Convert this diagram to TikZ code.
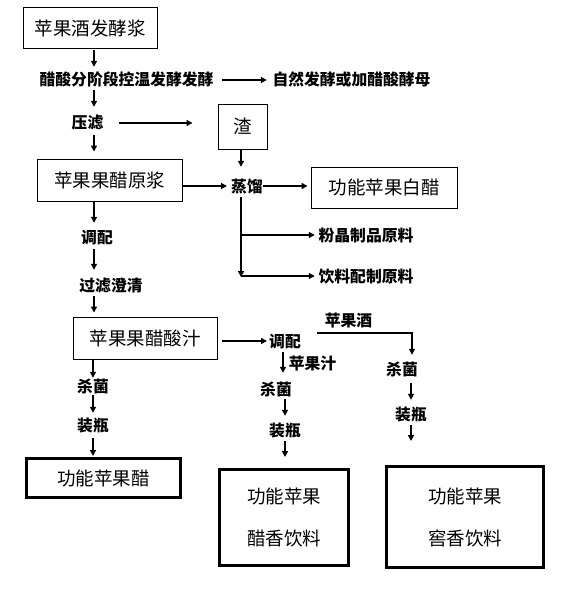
\documentclass[tikz,border=0pt]{standalone}
\usepackage{fontspec}
\newfontfamily\cjk{Noto Sans CJK SC}
\usetikzlibrary{arrows.meta,calc}
\begin{document}
\begin{tikzpicture}[x=1pt,y=-1pt,
  box/.style={draw,line width=0.9pt,inner sep=0pt,font=\cjk\fontsize{18.5}{22}\selectfont},
  tbox/.style={draw,line width=3pt,inner sep=0pt,align=center,font=\cjk\fontsize{18.5}{42}\selectfont},
  lab/.style={inner sep=0pt,text height=14pt,text depth=2pt,font=\cjk\bfseries\fontsize{15.8}{18}\selectfont},
  arr/.style={line width=1.4pt,-{Triangle[length=6pt,width=6pt]}},
  ln/.style={line width=1.4pt}]
\useasboundingbox (0,0) rectangle (564,596);
% boxes
\node[box,minimum width=134pt,minimum height=41pt] (b1) at (90,28) {苹果酒发酵浆};
\node[box,minimum width=49pt,minimum height=45pt] (zha) at (242.5,126.5) {渣};
\node[box,minimum width=145pt,minimum height=42pt] (yj) at (109.5,180) {苹果果醋原浆};
\node[box,minimum width=146pt,minimum height=41pt] (bc) at (384,187.5) {功能苹果白醋};
\node[box,minimum width=144pt,minimum height=42pt] (sz) at (145,338) {苹果果醋酸汁};
\node[tbox,minimum width=154pt,minimum height=39pt] (pgc) at (103.5,478) {功能苹果醋};
\node[tbox,minimum width=129pt,minimum height=96pt] (cx) at (284,517.5) {功能苹果\\醋香饮料};
\node[tbox,minimum width=157pt,minimum height=101pt] (jx) at (465,517) {功能苹果\\窖香饮料};
% labels
\node[lab] (l1) at (126.5,80) {醋酸分阶段控温发酵发酵};
\node[lab] (l2) at (351.5,80) {自然发酵或加醋酸酵母};
\node[lab] (l3) at (87.5,123) {压滤};
\node[lab] (l4) at (247,186) {蒸馏};
\node[lab] (l5) at (366,235) {粉晶制品原料};
\node[lab] (l6) at (366,276) {饮料配制原料};
\node[lab] (l7) at (97,237) {调配};
\node[lab] (l8) at (111,285) {过滤澄清};
\node[lab] (l9) at (285,341) {调配};
\node[lab] (l10) at (348.5,320) {苹果酒};
\node[lab] (l11) at (312.5,363) {苹果汁};
\node[lab] (l12) at (276,389) {杀菌};
\node[lab] (l13) at (285,430) {装瓶};
\node[lab] (l14) at (402,369) {杀菌};
\node[lab] (l15) at (411,414) {装瓶};
\node[lab] (l16) at (93,386) {杀菌};
\node[lab] (l17) at (93,425) {装瓶};
% helper coordinates
\coordinate (xA) at (94,0);
\coordinate (xB) at (93,0);
\coordinate (xZ) at (241,0);
\coordinate (j1) at (241,235);
\coordinate (j2) at (241,277);
\coordinate (c1) at (317,333);
\coordinate (xR) at (412,0);
\coordinate (xM) at (283,0);
\coordinate (xN) at (285,0);
\coordinate (xS) at (411,0);
% left column
\draw[arr,shorten <=1.5pt,shorten >=5pt] (b1.south -| xA) -- (l1.north -| xA);
\draw[arr,shorten <=2pt,shorten >=8pt] (l1.south -| xA) -- (l3.north -| xA);
\draw[arr,shorten <=4pt,shorten >=7pt] (l3.south -| xA) -- (yj.north -| xA);
\draw[arr,shorten <=1pt,shorten >=6pt] (yj.south -| xA) -- (l7.north -| xA);
\draw[arr,shorten <=4pt,shorten >=7pt] (l7.south -| xA) -- (l8.north -| xA);
\draw[arr,shorten <=3pt,shorten >=4pt] (l8.south -| xA) -- (sz.north -| xA);
\draw[arr] (sz.south -| xB) -- (l16.north -| xB);
\draw[arr,shorten <=1pt,shorten >=4pt] (l16.south -| xB) -- (l17.north -| xB);
\draw[arr,shorten <=5pt,shorten >=1pt] (l17.south -| xB) -- (pgc.north -| xB);
% horizontal
\draw[arr,shorten <=8.6pt,shorten >=5.5pt] (l1.east) -- (l2.west);
\draw[arr,shorten <=15pt,shorten >=25pt] (l3.east) -- (l3.east -| zha.west);
\draw[arr,shorten >=11pt] (zha.south -| xZ) -- (l4.north -| xZ);
\draw[arr,shorten >=4pt] (yj.east |- l4) -- (l4.west);
\draw[arr,shorten >=3pt] (l4.east) -- (bc.west |- l4);
\draw[arr,shorten <=3pt] (l4.south -| xZ) -- (j2);
\draw[arr,shorten >=3.6pt] (j1) -- (l5.west);
\draw[arr,shorten >=3.6pt] (j2 |- l6) -- (l6.west);
\draw[arr,shorten <=5pt,shorten >=2pt] (sz.east |- l9) -- (l9.west);
% middle and right columns
\draw[arr,shorten >=6pt] (c1) -| (l14.north -| xR);
\draw[arr,shorten <=3pt,shorten >=8pt] (l9.south -| xM) -- (l12.north -| xM);
\draw[arr,shorten <=2pt,shorten >=6pt] (l12.south -| xN) -- (l13.north -| xN);
\draw[arr,shorten <=3pt,shorten >=11pt] (l13.south -| xN) -- (cx.north -| xN);
\draw[arr,shorten <=6pt,shorten >=6pt] (l14.south -| xS) -- (l15.north -| xS);
\draw[arr,shorten <=3pt,shorten >=24pt] (l15.south -| xS) -- (jx.north -| xS);
\end{tikzpicture}
\end{document}
